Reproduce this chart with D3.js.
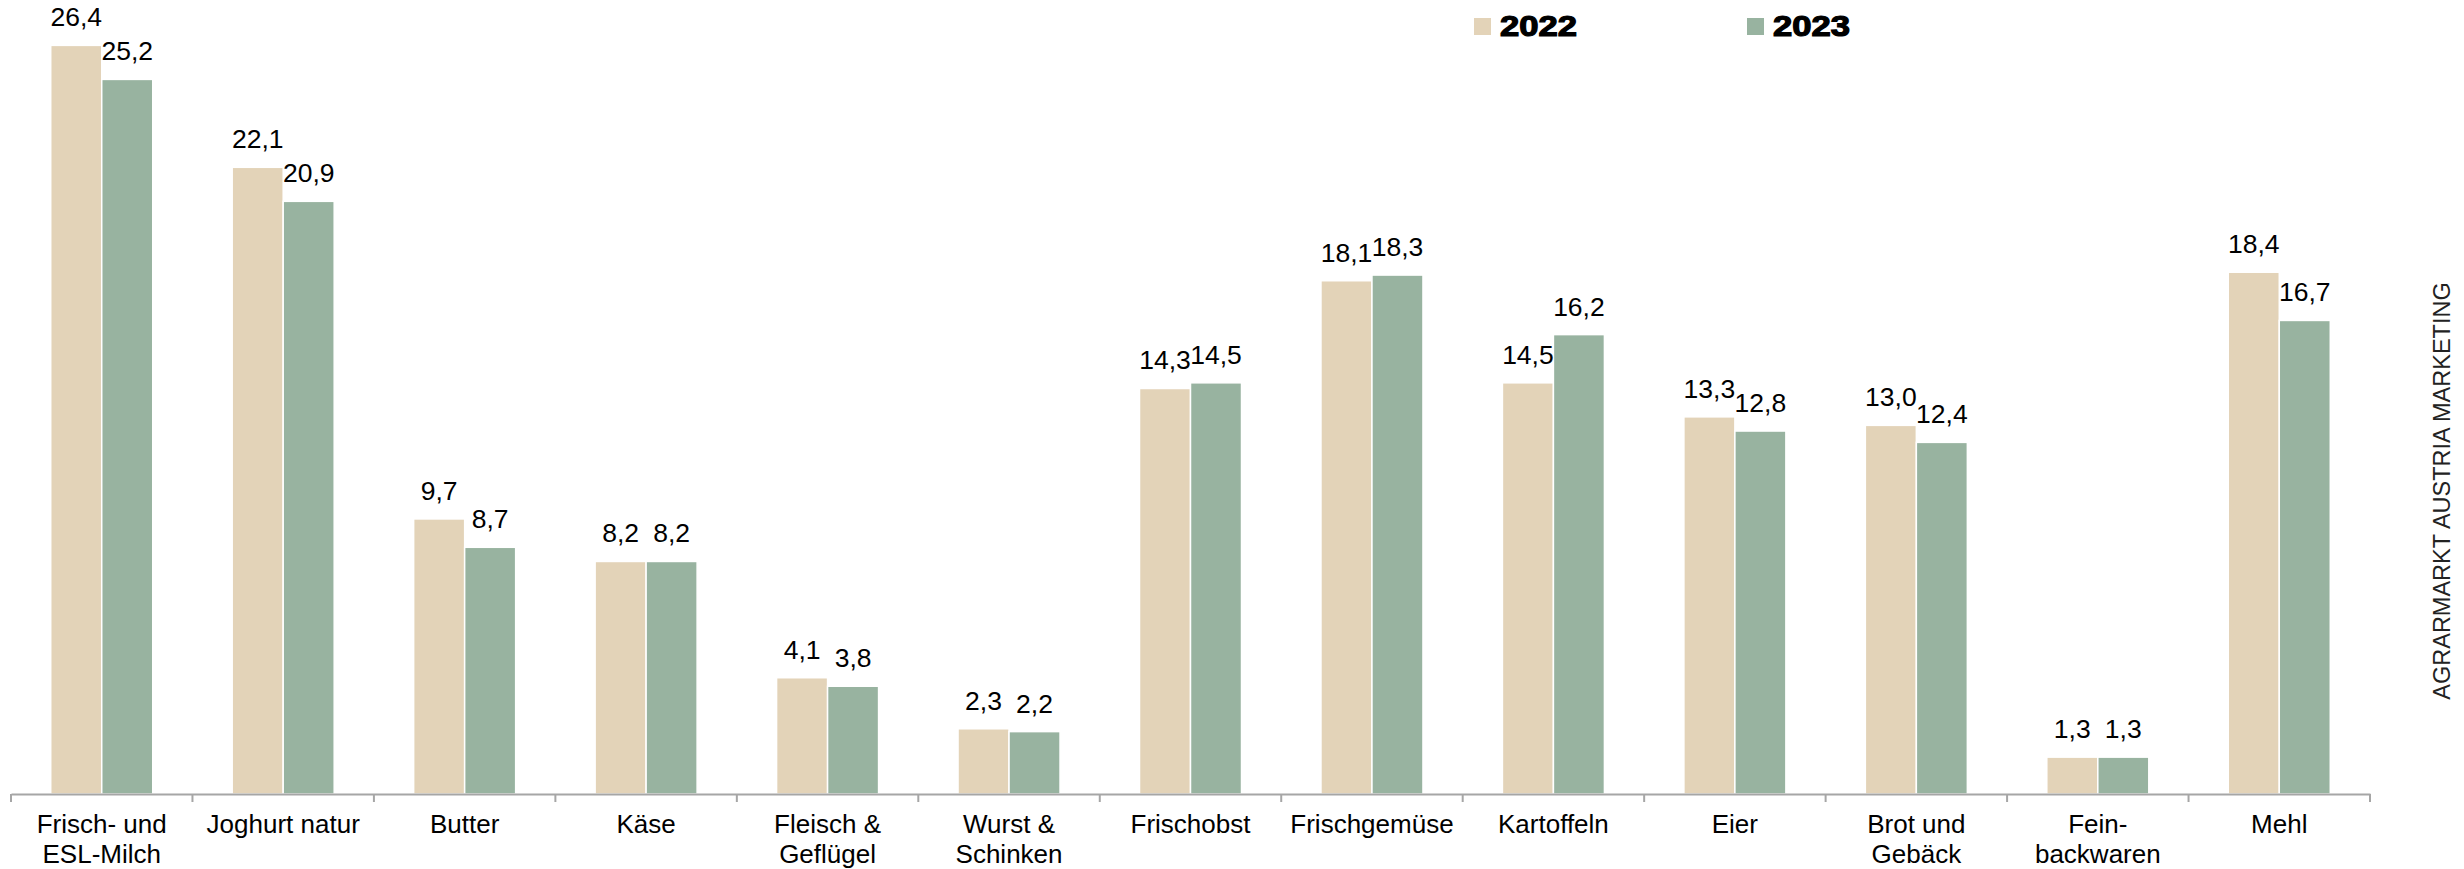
<!DOCTYPE html>
<html>
<head>
<meta charset="utf-8">
<script src="https://cdn.jsdelivr.net/npm/d3@7"></script>
<style>
  body { margin: 0; background: #fff; }
  svg text { font-family: "Liberation Sans", Arial, sans-serif; }
</style>
</head>
<body>
<svg id="chart"></svg>
<script>
let width = 2464,
    height = 869;

// data
const categories = ["Frisch- und\nESL-Milch", "Joghurt natur", "Butter", "Käse", "Fleisch &\nGeflügel",
    "Wurst &\nSchinken", "Frischobst", "Frischgemüse", "Kartoffeln", "Eier", "Brot und\nGebäck",
    "Fein-\nbackwaren", "Mehl"];
const years = ["2022", "2023"];
const values2022 = [26.4, 22.1, 9.7, 8.2, 4.1, 2.3, 14.3, 18.1, 14.5, 13.3, 13.0, 1.3, 18.4];
const values2023 = [25.2, 20.9, 8.7, 8.2, 3.8, 2.2, 14.5, 18.3, 16.2, 12.8, 12.4, 1.3, 16.7];
const colors = ["#e3d3b8", "#98b3a0"];
const source = "AGRARMARKT AUSTRIA MARKETING";

let rows = categories.map((c, i) => ({cat: c, vals: [values2022[i], values2023[i]]}));

let svg = d3.select("svg#chart")
    .attr("width", width)
    .attr("height", height);

let x0 = d3.scaleBand().domain(categories).range([11, 2370]).padding(0);
let bw = x0.bandwidth();
let x1 = d3.scaleBand().domain(years).range([bw / 2 - 51, bw / 2 + 51]).padding(0);
let y = d3.scaleLinear().domain([0, 28]).range([794, 0]);

let fmt = d3.formatLocale({decimal: ",", thousands: ".", grouping: [3], currency: ["", "€"]}).format(".1f");

let groups = svg.selectAll("g.cat")
    .data(rows)
    .join("g")
    .attr("class", "cat")
    .attr("transform", d => `translate(${x0(d.cat)},0)`);

groups.selectAll("rect")
    .data(d => d.vals.map((v, i) => ({year: years[i], v: v, i: i})))
    .join("rect")
    .attr("x", d => x1(d.year))
    .attr("y", d => y(d.v))
    .attr("width", x1.bandwidth())
    .attr("height", d => y(0) - y(d.v))
    .attr("fill", d => colors[d.i])
    .attr("stroke", "#fff")
    .attr("stroke-width", 1.5);

groups.selectAll("text.val")
    .data(d => d.vals.map((v, i) => ({year: years[i], v: v})))
    .join("text")
    .attr("class", "val")
    .attr("x", d => x1(d.year) + x1.bandwidth() / 2)
    .attr("y", d => y(d.v) - 19)
    .attr("text-anchor", "middle")
    .attr("font-size", 26.5)
    .attr("fill", "#000")
    .text(d => fmt(d.v));

// x axis: baseline + ticks at category borders
let axis = svg.append("g")
    .attr("transform", `translate(0,${y(0)})`)
    .call(d3.axisBottom(x0).tickSize(0).tickFormat(""));
axis.select(".domain").attr("stroke", "#a6a6a6").attr("stroke-width", 2);

let borders = categories.map(c => x0(c)).concat([x0.range()[1]]);
axis.selectAll("line.border")
    .data(borders)
    .join("line")
    .attr("class", "border")
    .attr("x1", d => d).attr("x2", d => d)
    .attr("y1", 0).attr("y2", 8)
    .attr("stroke", "#a6a6a6")
    .attr("stroke-width", 2);

let labels = svg.selectAll("text.cat-label")
    .data(categories)
    .join("text")
    .attr("class", "cat-label")
    .attr("text-anchor", "middle")
    .attr("font-size", 26)
    .attr("fill", "#000");
labels.selectAll("tspan")
    .data(d => d.split("\n").map(t => ({t: t, c: d})))
    .join("tspan")
    .attr("x", d => x0(d.c) + bw / 2)
    .attr("y", (d, i) => 833 + i * 30)
    .text(d => d.t);

// legend
let legend = svg.append("g");
let legendX = [1474, 1747];
years.forEach((yr, i) => {
    legend.append("rect")
        .attr("x", legendX[i]).attr("y", 18)
        .attr("width", 17).attr("height", 17)
        .attr("fill", colors[i]);
    legend.append("text")
        .attr("x", legendX[i] + 26).attr("y", 36)
        .attr("font-size", 29)
        .attr("font-weight", "bold")
        .attr("stroke", "#000")
        .attr("stroke-width", 1.2)
        .attr("textLength", 77)
        .attr("lengthAdjust", "spacingAndGlyphs")
        .text(yr);
});

// source text on the right
svg.append("text")
    .attr("transform", "translate(2450,491) rotate(-90)")
    .attr("text-anchor", "middle")
    .attr("font-size", 23.5)
    .attr("fill", "#222")
    .text(source);
</script>
</body>
</html>
